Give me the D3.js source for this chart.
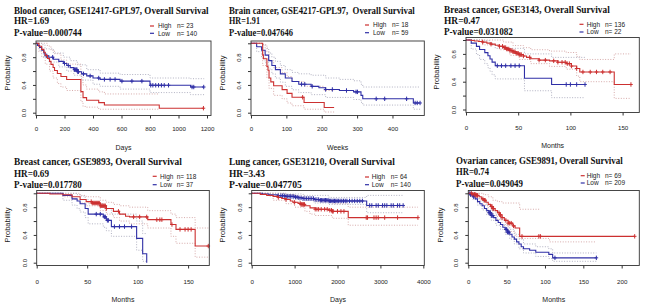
<!DOCTYPE html>
<html><head><meta charset="utf-8">
<script src="https://cdn.jsdelivr.net/npm/d3@7"></script>
<style>body{margin:0;background:#fff}svg{display:block}</style>
</head><body>
<svg id="c" width="650" height="306"></svg>
<script>
// ---------- text / labels ----------
const titles = ["Blood cancer, GSE12417-GPL97, Overall Survival","Brain cancer, GSE4217-GPL97,  Overall Survival","Breast cancer, GSE3143, Overall Survival","Breast cancer, GSE9893, Overall Survival","Lung cancer, GSE31210, Overall Survival","Ovarian cancer, GSE9891, Overall Survival"];
const hrLabels = ["HR=1.69","HR=1.91","HR=0.47","HR=0.69","HR=3.43","HR=0.74"];
const pLabels = ["P-value=0.000744","P-value=0.047646","P-value=0.031082","P-value=0.017780","P-value=0.047705","P-value=0.049049"];
const xTitles = ["Days","Weeks","Months","Months","Days","Months"];
const yTitle = "Probability";
const xTickVals = [[0,200,400,600,800,1000,1200],[0,100,200,300,400],[0,50,100,150],[0,50,100,150],[0,1000,2000,3000,4000],[0,50,100,150,200]];
const yTickVals = [0,0.2,0.4,0.6,0.8,1.0];
const yTickLabeled = [0,0.4,0.8];
const groupNames = ["High","Low"];
const highN = [23,18,136,118,64,69];
const lowN = [140,59,22,37,140,209];

// ---------- Blood cancer (days) ----------
const blood_high = [[0,1],[20,0.957],[40,0.913],[55,0.87],[65,0.826],[80,0.783],[95,0.739],[105,0.696],[120,0.652],[130,0.609],[150,0.565],[175,0.522],[215,0.478],[315,0.304],[330,0.217],[355,0.18],[440,0.145],[480,0.11],[865,0.065],[1175,0.065]];
const blood_high_cens = [1175];
const blood_low = [[0,1],[10,0.97],[25,0.94],[40,0.9],[55,0.86],[63,0.82],[90,0.8],[122,0.77],[160,0.74],[192,0.71],[216,0.68],[240,0.65],[265,0.62],[290,0.59],[320,0.56],[356,0.53],[400,0.5],[450,0.48],[590,0.455],[800,0.395],[1085,0.37],[1180,0.37]];
const blood_low_cens = [75,117,200,227,270,278,283,288,293,298,333,380,440,480,520,555,603,673,743,805,820,840,860,880,900,930,1095,1107,1177];
const blood_high_lo = [[0,1],[20,0.88],[40,0.8],[65,0.7],[95,0.6],[120,0.5],[150,0.42],[175,0.37],[215,0.32],[315,0.16],[330,0.09],[355,0.08],[440,0.05],[865,0.05]];
const blood_high_hi = [[0,1],[55,1],[80,0.96],[105,0.9],[130,0.85],[175,0.76],[215,0.7],[315,0.52],[330,0.4],[355,0.34],[440,0.3],[480,0.27],[865,0.27]];
const blood_low_lo = [[0,1],[25,0.9],[55,0.8],[90,0.73],[160,0.66],[216,0.6],[265,0.54],[320,0.47],[400,0.41],[450,0.38],[590,0.34],[800,0.29],[1085,0.26],[1180,0.26]];
const blood_low_hi = [[0,1],[40,0.98],[63,0.92],[122,0.86],[192,0.8],[240,0.75],[290,0.69],[356,0.62],[450,0.57],[590,0.55],[800,0.5],[1085,0.49],[1180,0.49]];

// ---------- Brain cancer (weeks) ----------
const brain_high = [[0,1],[33,0.833],[35,0.778],[45,0.667],[48,0.611],[51,0.5],[56,0.444],[64,0.389],[88,0.333],[102,0.278],[116,0.222],[150,0.148],[207,0.074],[235,0.074]];
const brain_high_cens = [146];
const brain_low = [[0,1],[16,0.95],[30,0.9],[40,0.83],[50,0.75],[59,0.68],[69,0.62],[83,0.56],[97,0.5],[116,0.45],[135,0.41],[170,0.38],[192,0.36],[211,0.335],[250,0.32],[290,0.3],[311,0.25],[316,0.2],[459,0.14],[478,0.14]];
const brain_low_cens = [143,152,173,211,230,270,297,301,354,378,440,464,470,478];
const brain_high_lo = [[0,1],[33,0.68],[45,0.5],[51,0.35],[64,0.25],[88,0.2],[102,0.14],[116,0.1],[150,0.05],[207,0.01],[235,0.01]];
const brain_high_hi = [[0,1],[35,0.98],[45,0.88],[51,0.75],[64,0.65],[88,0.58],[102,0.52],[116,0.45],[150,0.38],[207,0.32],[235,0.32]];
const brain_low_lo = [[0,1],[16,0.88],[30,0.8],[40,0.72],[50,0.63],[59,0.56],[69,0.5],[83,0.44],[97,0.38],[116,0.33],[135,0.29],[170,0.26],[211,0.22],[290,0.19],[311,0.15],[316,0.11],[459,0.05],[478,0.05]];
const brain_low_hi = [[0,1],[30,0.98],[40,0.93],[50,0.86],[59,0.8],[69,0.74],[83,0.68],[97,0.62],[116,0.58],[135,0.56],[170,0.54],[211,0.5],[250,0.48],[290,0.46],[311,0.41],[316,0.37],[478,0.37]];

// ---------- Breast cancer GSE3143 (months) ----------
const b3143_high = [[0,1],[5,0.993],[8,0.985],[12,0.978],[16,0.97],[20,0.955],[24,0.94],[28,0.925],[32,0.91],[36,0.89],[39,0.87],[42,0.85],[45,0.83],[48,0.81],[51,0.79],[55,0.77],[58,0.75],[62,0.73],[70,0.71],[80,0.7],[88,0.68],[96,0.66],[101,0.625],[106,0.59],[109,0.54],[142,0.36],[158,0.36]];
const b3143_high_cens = [16,24,32,35,37,38,39,40,41,42,43,44,45,46,47,48,49,50,51,52,53,55,61,70,76,84,88,92,95,97,99,101,106,112,119,125,131,138,158];
const b3143_low = [[0,1],[5,0.955],[10,0.909],[13,0.864],[18,0.818],[21,0.773],[23,0.727],[25,0.682],[28,0.63],[56,0.45],[82,0.36],[114,0.36]];
const b3143_low_cens = [30,34,38,43,47,51,96,100,106,114];
const b3143_high_lo = [[0,1],[16,0.93],[32,0.86],[42,0.78],[51,0.72],[62,0.66],[80,0.62],[96,0.58],[106,0.48],[109,0.4],[142,0.16],[158,0.16]];
const b3143_high_hi = [[0,1],[24,1],[36,0.97],[45,0.92],[55,0.89],[62,0.86],[80,0.84],[96,0.82],[106,0.76],[109,0.72],[142,0.8],[158,0.8]];
const b3143_low_lo = [[0,1],[5,0.87],[10,0.79],[13,0.72],[18,0.66],[21,0.6],[23,0.55],[25,0.5],[28,0.44],[56,0.27],[82,0.17],[114,0.17]];
const b3143_low_hi = [[0,1],[10,1],[18,0.99],[23,0.96],[25,0.93],[28,0.88],[56,0.8],[82,0.75],[114,0.75]];

// ---------- Breast cancer GSE9893 (months) ----------
const b9893_high = [[0,1],[13,0.99],[26,0.98],[35,0.95],[43,0.91],[49,0.88],[55,0.86],[63,0.82],[69,0.78],[76,0.74],[82,0.7],[88,0.67],[92,0.66],[110,0.62],[133,0.55],[138,0.48],[157,0.24],[170,0.24]];
const b9893_high_cens = [54,55,56,57,58,59,60,61,62,63,64,65,66,67,68,69,81,96,102,109,119,122,124,134,142,147,150,153,170];
const b9893_low = [[0,1],[26,0.97],[35,0.92],[40,0.89],[43,0.85],[48,0.78],[51,0.7],[66,0.66],[69,0.61],[74,0.52],[99,0.35],[105,0.13],[109,0]];
const b9893_low_cens = [59,63,67,68,70,71,77,82,87,94];
const b9893_high_lo = [[0,1],[26,0.95],[35,0.91],[43,0.86],[49,0.82],[63,0.75],[69,0.7],[76,0.65],[82,0.6],[92,0.56],[110,0.5],[133,0.38],[138,0.28],[157,0.08],[170,0.08]];
const b9893_high_hi = [[0,1],[35,1],[43,0.97],[49,0.95],[63,0.9],[69,0.87],[76,0.84],[82,0.82],[92,0.8],[110,0.75],[133,0.7],[138,0.65],[157,0.5],[170,0.5]];
const b9893_low_lo = [[0,1],[26,0.9],[35,0.83],[40,0.78],[43,0.73],[48,0.65],[51,0.56],[66,0.51],[69,0.46],[74,0.38],[99,0.18],[105,0.02],[109,0.02]];
const b9893_low_hi = [[0,1],[35,1],[40,0.98],[43,0.96],[48,0.91],[51,0.85],[66,0.82],[69,0.78],[74,0.7],[99,0.6],[105,0.42],[109,0.42]];

// ---------- Lung cancer (days) ----------
const lung_high = [[0,1],[200,0.985],[350,0.97],[500,0.955],[620,0.94],[700,0.925],[800,0.91],[900,0.89],[960,0.87],[1080,0.855],[1150,0.84],[1240,0.82],[1360,0.79],[1480,0.77],[1800,0.755],[1880,0.74],[2250,0.65],[3875,0.65]];
const lung_high_cens = [620,800,1000,1130,1150,1170,1190,1210,1230,1480,1520,1560,1620,1700,1760,1820,1860,1880,1900,2000,2080,2150,2670,2700,2850,2900,2950,3100,3400,3875];
const lung_low = [[0,1],[250,0.99],[400,0.98],[600,0.965],[800,0.955],[1000,0.945],[1100,0.935],[1200,0.925],[1450,0.91],[1600,0.9],[1800,0.89],[2680,0.825],[3530,0.825]];
const lung_low_cens = [620,680,720,760,800,830,870,900,940,980,1020,1060,1100,1150,1200,1240,1280,1320,1360,1400,1440,1480,1520,1560,1600,1630,1660,1690,1720,1750,1780,1810,1840,1870,1900,1930,1960,1990,2020,2060,2100,2140,2180,2220,2280,2340,2400,2460,2520,2580,2750,2800,2900,2950,3050,3100,3150,3250,3300,3400,3450,3530];
const lung_high_lo = [[0,1],[500,0.9],[800,0.85],[1000,0.8],[1240,0.74],[1360,0.7],[1480,0.68],[1880,0.64],[2250,0.54],[3875,0.54]];
const lung_high_hi = [[0,1],[500,1],[800,0.98],[1000,0.96],[1240,0.92],[1480,0.88],[1880,0.85],[2250,0.8],[3875,0.8]];
const lung_low_lo = [[0,1],[400,0.96],[800,0.92],[1100,0.9],[1450,0.86],[1800,0.84],[2680,0.72],[3530,0.72]];
const lung_low_hi = [[0,1],[800,0.99],[1200,0.97],[1800,0.94],[2680,0.97],[3530,0.97]];

// ---------- Ovarian cancer (months) ----------
const ov_high = [[0,1],[6,0.985],[10,0.97],[14,0.95],[17,0.92],[20,0.9],[23,0.87],[26,0.84],[29,0.81],[32,0.78],[35,0.75],[38,0.72],[41,0.69],[44,0.65],[47,0.61],[52,0.57],[58,0.53],[61,0.5],[67,0.38],[217,0.38]];
const ov_high_cens = [4,6,8,9,10,11,12,19,21,22,30,31,32,33,40,41,42,44,49,52,54,56,59,70,92,94,217];
const ov_low = [[0,1],[3,0.98],[6,0.95],[9,0.92],[12,0.88],[15,0.85],[18,0.82],[21,0.78],[24,0.75],[27,0.72],[30,0.68],[33,0.65],[36,0.61],[39,0.58],[42,0.55],[45,0.51],[48,0.48],[51,0.44],[54,0.41],[57,0.37],[60,0.34],[63,0.3],[66,0.27],[69,0.23],[72,0.2],[80,0.18],[88,0.15],[105,0.12],[110,0.07],[167,0.07]];
const ov_low_cens = [2,3,5,7,27,28,29,30,31,32,49,50,51,52,53,113,167];
const ov_high_lo = [[0,1],[14,0.9],[20,0.83],[26,0.75],[32,0.68],[38,0.62],[44,0.54],[52,0.45],[61,0.38],[67,0.35],[106,0.3],[167,0.3]];
const ov_high_hi = [[0,1],[20,0.98],[26,0.95],[32,0.9],[38,0.88],[44,0.86],[67,0.77],[93,0.77]];
const ov_low_lo = [[0,1],[6,0.91],[12,0.83],[18,0.76],[24,0.69],[30,0.61],[36,0.54],[42,0.48],[48,0.41],[54,0.34],[60,0.27],[66,0.2],[72,0.14],[88,0.09],[105,0.06],[110,0.02],[167,0.02]];
const ov_low_hi = [[0,1],[6,0.99],[12,0.93],[18,0.88],[24,0.82],[30,0.75],[36,0.69],[42,0.62],[48,0.55],[54,0.48],[60,0.41],[66,0.34],[72,0.27],[88,0.23],[105,0.2],[110,0.14],[167,0.14]];

// ---------- assemble ----------
const series = [
  {high:blood_high,highC:blood_high_cens,low:blood_low,lowC:blood_low_cens,hLo:blood_high_lo,hHi:blood_high_hi,lLo:blood_low_lo,lHi:blood_low_hi},
  {high:brain_high,highC:brain_high_cens,low:brain_low,lowC:brain_low_cens,hLo:brain_high_lo,hHi:brain_high_hi,lLo:brain_low_lo,lHi:brain_low_hi},
  {high:b3143_high,highC:b3143_high_cens,low:b3143_low,lowC:b3143_low_cens,hLo:b3143_high_lo,hHi:b3143_high_hi,lLo:b3143_low_lo,lHi:b3143_low_hi},
  {high:b9893_high,highC:b9893_high_cens,low:b9893_low,lowC:b9893_low_cens,hLo:b9893_high_lo,hHi:b9893_high_hi,lLo:b9893_low_lo,lHi:b9893_low_hi},
  {high:lung_high,highC:lung_high_cens,low:lung_low,lowC:lung_low_cens,hLo:lung_high_lo,hHi:lung_high_hi,lLo:lung_low_lo,lHi:lung_low_hi},
  {high:ov_high,highC:ov_high_cens,low:ov_low,lowC:ov_low_cens,hLo:ov_high_lo,hHi:ov_high_hi,lLo:ov_low_lo,lHi:ov_low_hi}
];

// layout (pixel geometry of each pasted panel)
const layout = [
  {L:36,R:211,T:41,B:115.5,y0:112.7,y1:43.3,xmax:1228,tx:14,tyT:13.5,tyH:24.2,tyP:35.8,tw:195,hw:35,pw:68,ytx:9.5,yty:73,xty:150,xly:131,lgD:150,lgT:158,lgN:177,lg1:26,lg2:33.3},
  {L:251,R:424.3,T:41,B:115.5,y0:112.7,y1:43.3,xmax:490,tx:229,tyT:13.5,tyH:24.2,tyP:35.8,tw:186,hw:31,pw:64,ytx:224.5,yty:73,xty:150,xly:131,lgD:365,lgT:373,lgN:392,lg1:25,lg2:32.7},
  {L:466,R:639.3,T:37.5,B:112.5,y0:109.5,y1:40,xmax:166,tx:444,tyT:12.5,tyH:23.5,tyP:35.2,tw:166,hw:36,pw:69,ytx:439,yty:72,xty:148,xly:130,lgD:579.5,lgT:586.7,lgN:605,lg1:24.3,lg2:32},
  {L:36.7,R:209.3,T:190.5,B:265.5,y0:262.7,y1:193.3,xmax:171,tx:14,tyT:164.8,tyH:176.5,tyP:188.2,tw:168,hw:35,pw:68,ytx:9.5,yty:225,xty:302,xly:283.8,lgD:152.7,lgT:160,lgN:176.7,lg1:176.3,lg2:184.7},
  {L:251.7,R:424.3,T:190.5,B:265.5,y0:262.7,y1:193.3,xmax:4023,tx:229,tyT:164.8,tyH:176.5,tyP:188.2,tw:166,hw:36,pw:73,ytx:224.5,yty:225,xty:302,xly:283.8,lgD:365,lgT:371.7,lgN:390.7,lg1:177,lg2:184.7},
  {L:468.3,R:639.3,T:190.5,B:265.5,y0:262.7,y1:193.3,xmax:223,tx:456,tyT:163.6,tyH:175,tyP:186.5,tw:167,hw:33,pw:67,ytx:443,yty:225,xty:302,xly:283.8,lgD:580.7,lgT:586.7,lgN:605,lg1:175.7,lg2:183}
];

const RED = "#cc3030", BLUE = "#2f2fa6", CI_RED = "#d2a2a2", CI_BLUE = "#a9a9bb";
const SANS = "'Liberation Sans', Arial, sans-serif", SERIF = "'Liberation Serif', 'Times New Roman', serif";
const svg = d3.select("#c");

function stepVal(arr, t){
  const i = d3.bisector(d => d[0]).right(arr, t) - 1;
  return arr[Math.max(0,i)][1];
}

layout.forEach((lo, k) => {
  const s = series[k];
  const g = svg.append("g");
  const x = d3.scaleLinear().domain([0, lo.xmax]).range([lo.L, lo.R]);
  const y = d3.scaleLinear().domain([0, 1]).range([lo.y0, lo.y1]);
  const line = d3.line().x(d => x(d[0])).y(d => y(d[1])).curve(d3.curveStepAfter);

  // titles (horizontally condensed to the reference's widths)
  [[titles[k], lo.tyT, lo.tw],[hrLabels[k], lo.tyH, lo.hw],[pLabels[k], lo.tyP, lo.pw]].forEach(([t, yy, w]) => {
    const tg = g.append("g");
    const te = tg.append("text").attr("x", 0).attr("y", 0).text(t)
      .attr("font-family", SERIF).attr("font-weight", "bold").attr("font-size", 10.5).attr("fill", "#111")
      .style("white-space", "pre");
    const nat = te.node().getComputedTextLength();
    tg.attr("transform", `translate(${lo.tx},${yy}) scale(${w / nat},1)`);
  });

  // legend
  [[groupNames[0], highN[k], RED, lo.lg1],[groupNames[1], lowN[k], BLUE, lo.lg2]].forEach(([nm, n, col, yy]) => {
    g.append("line").attr("x1", lo.lgD).attr("x2", lo.lgD + 4).attr("y1", yy).attr("y2", yy)
      .attr("stroke", col).attr("stroke-width", 1.2);
    g.append("text").attr("x", lo.lgT).attr("y", yy + 2.3).text(nm)
      .attr("font-family", SANS).attr("font-size", 6.5).attr("fill", "#222");
    g.append("text").attr("x", lo.lgN).attr("y", yy + 2.3).text("n= " + n)
      .attr("font-family", SANS).attr("font-size", 6.5).attr("fill", "#222");
  });

  // CI dotted lines
  [[s.hLo, CI_RED],[s.hHi, CI_RED],[s.lLo, CI_BLUE],[s.lHi, CI_BLUE]].forEach(([arr, col]) => {
    g.append("path").attr("d", line(arr)).attr("fill", "none").attr("stroke", col)
      .attr("stroke-width", 0.9).attr("stroke-dasharray", "1,1.6");
  });

  // survival curves
  [[s.low, s.lowC, BLUE],[s.high, s.highC, RED]].forEach(([arr, cens, col]) => {
    g.append("path").attr("d", line(arr)).attr("fill", "none").attr("stroke", col).attr("stroke-width", 1.1);
    g.selectAll(null).data(cens).join("path")
      .attr("transform", t => `translate(${x(t)},${y(stepVal(arr, t))})`)
      .attr("d", "M-1.8,0H1.8M0,-2.2V2.2").attr("stroke", col).attr("stroke-width", 1);
  });

  // box
  g.append("rect").attr("x", lo.L).attr("y", lo.T).attr("width", lo.R - lo.L).attr("height", lo.B - lo.T)
    .attr("fill", "none").attr("stroke", "#333").attr("stroke-width", 0.9);

  // y axis
  const ya = g.append("g").attr("transform", `translate(${lo.L},0)`)
    .call(d3.axisLeft(y).tickValues(yTickVals).tickSize(3)
      .tickFormat(d => yTickLabeled.some(v => Math.abs(v - d) < 1e-9) ? d3.format(".1f")(d) : ""));
  ya.select(".domain").remove();
  ya.selectAll("line").attr("stroke", "#333");
  ya.selectAll("text").attr("transform", "rotate(-90)").attr("x", 0).attr("y", -10.2).attr("dy", 0)
    .attr("text-anchor", "middle").attr("font-family", SANS).attr("font-size", 6).attr("fill", "#222");

  // x axis
  const xa = g.append("g").attr("transform", `translate(0,${lo.B})`)
    .call(d3.axisBottom(x).tickValues(xTickVals[k]).tickSize(3).tickFormat(d3.format("d")));
  xa.select(".domain").remove();
  xa.selectAll("line").attr("stroke", "#333");
  xa.selectAll("text").attr("y", lo.xly - lo.B).attr("dy", 0)
    .attr("font-family", SANS).attr("font-size", 6.2).attr("fill", "#222");

  // axis titles
  g.append("text").attr("x", (lo.L + lo.R) / 2).attr("y", lo.xty).attr("text-anchor", "middle")
    .text(xTitles[k]).attr("font-family", SANS).attr("font-size", 7).attr("fill", "#222");
  g.append("text").attr("transform", `translate(${lo.ytx},${lo.yty}) rotate(-90)`).attr("text-anchor", "middle")
    .text(yTitle).attr("font-family", SANS).attr("font-size", 7.5).attr("fill", "#222");
});
</script>
</body></html>
